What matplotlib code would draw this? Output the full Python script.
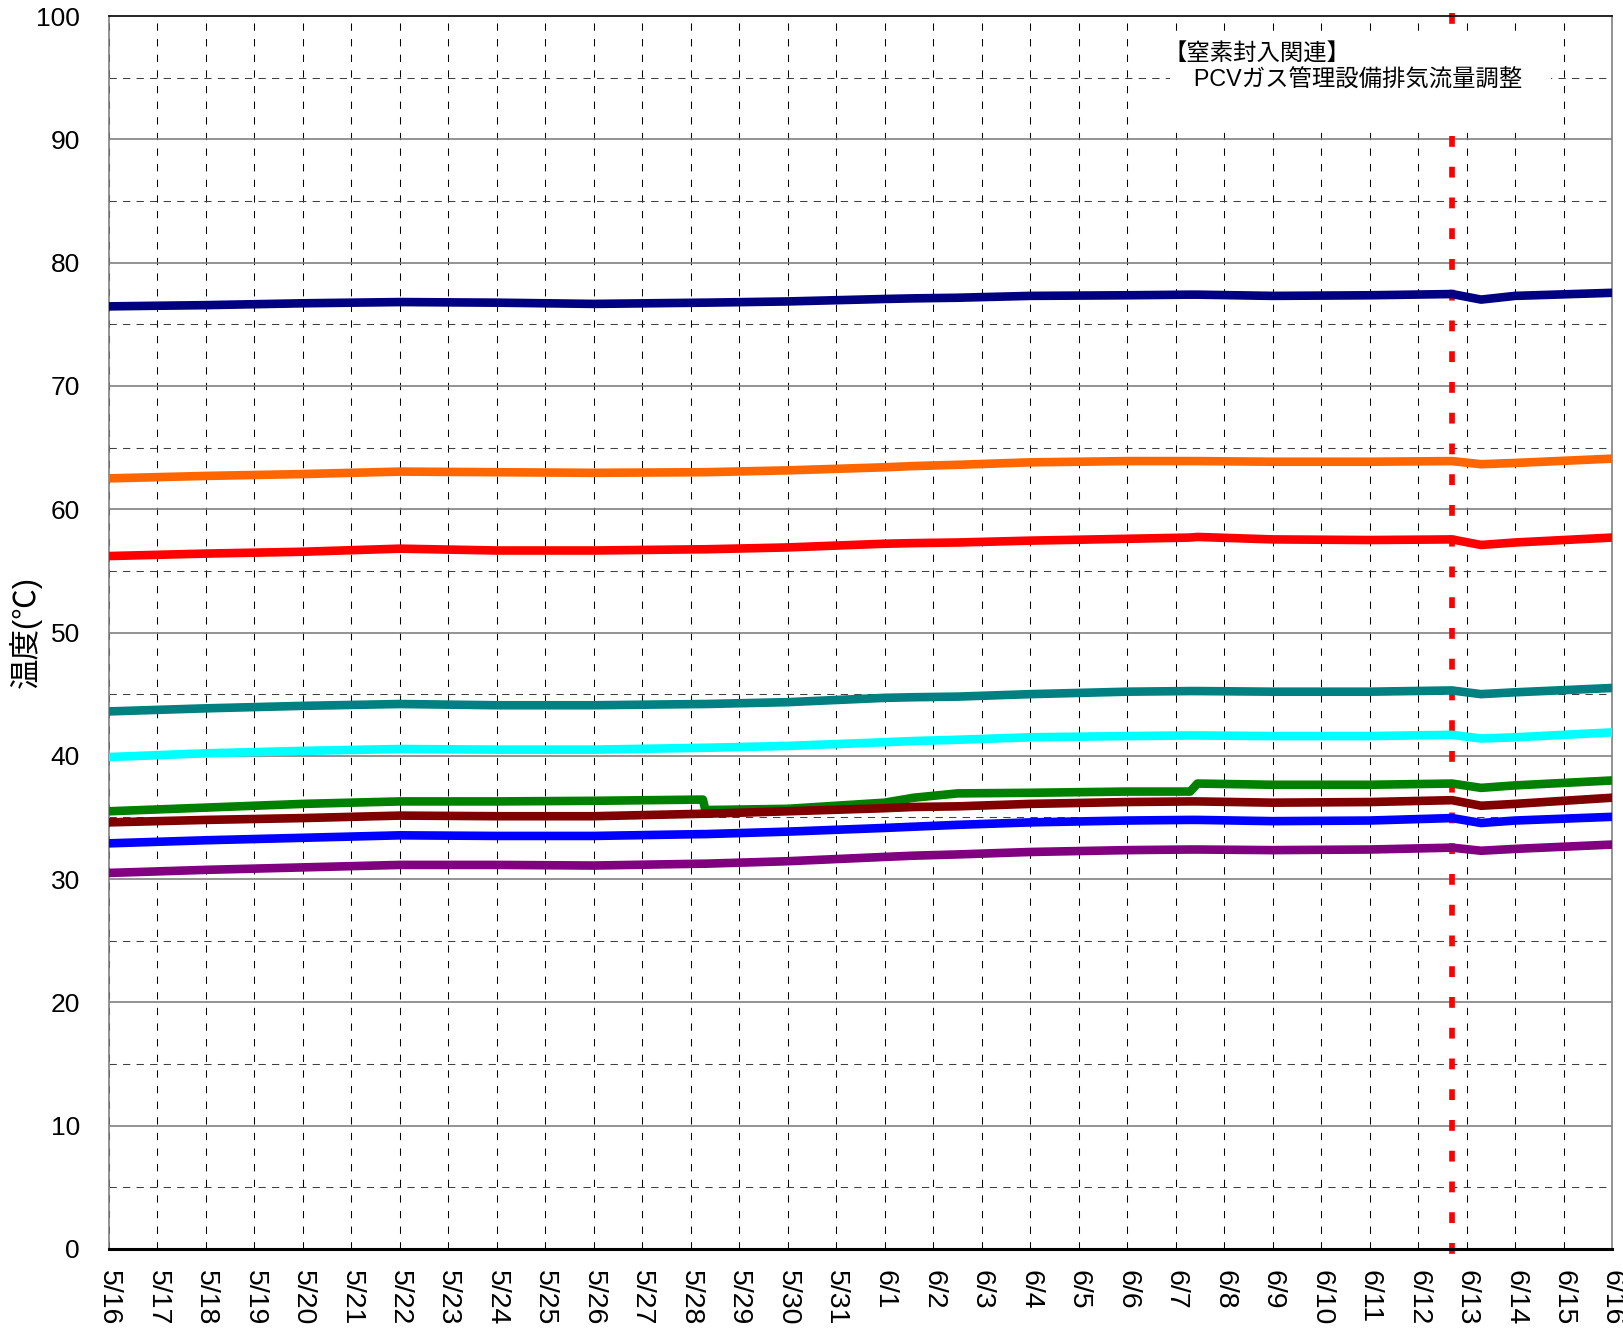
import matplotlib
matplotlib.use('Agg')
import matplotlib.pyplot as plt
from matplotlib.patches import Rectangle

plt.rcParams['font.family'] = ['Liberation Sans', 'Noto Sans CJK JP', 'DejaVu Sans']

# x axis: days counted from 5/16 0:00
tick_labels = ['5/16', '5/17', '5/18', '5/19', '5/20', '5/21', '5/22', '5/23', '5/24',
               '5/25', '5/26', '5/27', '5/28', '5/29', '5/30', '5/31', '6/1', '6/2',
               '6/3', '6/4', '6/5', '6/6', '6/7', '6/8', '6/9', '6/10', '6/11', '6/12',
               '6/13', '6/14', '6/15', '6/16']

days = [0, 2, 4, 6, 8, 10, 12.25, 12.3, 14, 16, 16.6, 17.5, 19, 21, 22.3, 22.45,
        24, 26, 27.7, 28.3, 29, 31]

navy = [76.45, 76.55, 76.7, 76.8, 76.75, 76.65, 76.75, 76.75, 76.85, 77.05, 77.1, 77.15,
        77.3, 77.35, 77.4, 77.4, 77.3, 77.35, 77.45, 77.0, 77.3, 77.55]
orange = [62.5, 62.7, 62.85, 63.05, 63.0, 62.95, 63.0, 63.0, 63.15, 63.4, 63.5, 63.6,
          63.8, 63.9, 63.9, 63.9, 63.85, 63.85, 63.9, 63.65, 63.75, 64.1]
red = [56.2, 56.4, 56.55, 56.8, 56.65, 56.65, 56.75, 56.75, 56.9, 57.2, 57.25, 57.3,
       57.45, 57.6, 57.7, 57.75, 57.55, 57.5, 57.55, 57.1, 57.3, 57.7]
teal = [43.6, 43.85, 44.05, 44.2, 44.1, 44.1, 44.2, 44.2, 44.35, 44.7, 44.75, 44.8,
        45.0, 45.2, 45.25, 45.25, 45.2, 45.2, 45.3, 45.0, 45.15, 45.5]
cyan = [39.9, 40.2, 40.4, 40.55, 40.5, 40.5, 40.65, 40.65, 40.8, 41.1, 41.2, 41.3,
        41.5, 41.6, 41.65, 41.65, 41.6, 41.6, 41.7, 41.4, 41.5, 41.9]
green = [35.5, 35.8, 36.1, 36.3, 36.3, 36.35, 36.45, 35.6, 35.7, 36.2, 36.6, 36.95,
         37.0, 37.1, 37.1, 37.75, 37.65, 37.65, 37.75, 37.4, 37.6, 38.0]
maroon = [34.6, 34.8, 34.95, 35.15, 35.1, 35.1, 35.3, 35.3, 35.5, 35.75, 35.85, 35.9,
          36.1, 36.25, 36.3, 36.3, 36.2, 36.25, 36.4, 35.95, 36.1, 36.6]
blue = [32.9, 33.15, 33.35, 33.55, 33.5, 33.5, 33.65, 33.65, 33.85, 34.15, 34.25, 34.4,
        34.6, 34.75, 34.8, 34.8, 34.7, 34.75, 34.95, 34.55, 34.75, 35.05]
purple = [30.5, 30.75, 30.95, 31.15, 31.15, 31.1, 31.25, 31.25, 31.45, 31.8, 31.9, 32.0,
          32.2, 32.35, 32.4, 32.4, 32.35, 32.4, 32.55, 32.3, 32.45, 32.8]

event_day = 27.69  # 6/12 afternoon
event_text = '【窒素封入関連】\n\u3000 PCVガス管理設備排気流量調整'

series = [
    (navy, '#000080'),
    (orange, '#FF6600'),
    (red, '#FF0000'),
    (teal, '#008080'),
    (cyan, '#00FFFF'),
    (green, '#008000'),
    (maroon, '#800000'),
    (blue, '#0000FF'),
    (purple, '#800080'),
]

fig = plt.figure(figsize=(16.24, 13.33), dpi=100)
ax = fig.add_axes([109 / 1624, 1 - 1249 / 1333, 1503 / 1624, 1233 / 1333])

ax.set_xlim(0, 31)
ax.set_ylim(0, 100)

# grid
for d in range(32):
    ax.axvline(d, color='black', lw=0.75, ls=(0, (7, 8)), zorder=0.5)
for v in range(5, 100, 10):
    ax.axhline(v, color='#404040', lw=0.75, ls=(0, (7, 6)), zorder=0.5)
for v in range(10, 100, 10):
    ax.axhline(v, color='#808080', lw=1.2, zorder=0.6)

# event line
ax.plot([event_day, event_day], [100.25, -0.5], color='#FF0000', lw=4.1,
        dashes=(1.9, 3.5), clip_on=False, zorder=1.5)

# white box behind annotation
ax.add_patch(Rectangle((21.88, 90.9), 7.87, 7.4, facecolor='white',
                       edgecolor='none', zorder=2.5))
ax.text(21.75, 95.9, event_text, fontsize=16.8, va='center', ha='left',
        linespacing=1.2, zorder=4)

for vals, col in series:
    ax.plot(days, vals, color=col, lw=6.2, solid_capstyle='round',
            solid_joinstyle='round', zorder=3)

ax.set_xticks(range(32))
ax.set_xticklabels(tick_labels, rotation=-90, fontsize=20.5, va='top', ha='center')
ax.set_yticks(range(0, 101, 10))
ax.tick_params(axis='y', length=0, pad=21, labelsize=19)
ax.tick_params(axis='x', length=0, pad=15)

ax.set_ylabel('温度(℃)', fontsize=22)
ax.yaxis.set_label_coords(-0.045, 0.5)

ax.spines['bottom'].set_linewidth(2.2)
ax.spines['bottom'].set_color('black')
ax.spines['top'].set_linewidth(1.2)
ax.spines['top'].set_color('black')
ax.spines['left'].set_color('#808080')
ax.spines['left'].set_linewidth(1.2)
ax.spines['right'].set_color('#808080')
ax.spines['right'].set_linewidth(1.2)

fig.savefig('out.png', dpi=100)
